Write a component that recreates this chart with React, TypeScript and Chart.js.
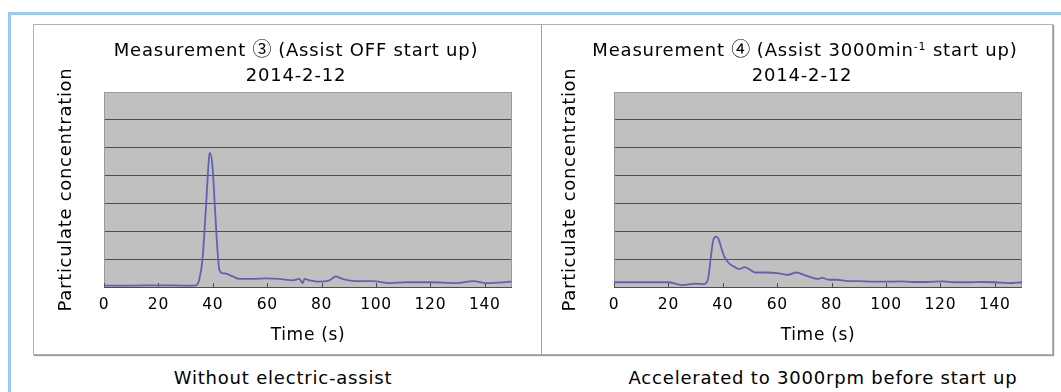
import React, { useEffect, useRef } from "react";
import { Chart, registerables } from "chart.js";

Chart.register(...registerables);

// ---- data ----
const xTicks = [0, 20, 40, 60, 80, 100, 120, 140];

const timeOff = [0, 10, 20, 30, 33.8, 35, 36.2, 37.5, 38.7, 39, 39.9, 40.9, 41.8, 42.4, 43.4, 44.8, 47.3, 49.7, 54.6, 59.6, 64.5, 69.4, 71.8, 73.1, 73.7, 75.5, 79.2, 82.9, 85.3, 86.6, 89, 92.7, 98.9, 105, 111, 119.7, 129.6, 135.7, 140.6, 149.8];
const valuesOff = [0.05, 0.05, 0.06, 0.05, 0.06, 0.26, 0.98, 2.88, 4.73, 4.81, 4.31, 2.64, 1.21, 0.62, 0.5, 0.48, 0.38, 0.29, 0.29, 0.31, 0.29, 0.24, 0.29, 0.14, 0.29, 0.24, 0.19, 0.24, 0.38, 0.33, 0.26, 0.21, 0.21, 0.14, 0.17, 0.17, 0.14, 0.21, 0.14, 0.19];

const timeAssist = [0, 10, 20, 25, 30, 33, 34.5, 35.5, 36.5, 37.5, 38.5, 39.5, 40.5, 42, 44, 46, 48, 50, 52, 56, 60, 64, 67, 70, 73, 75, 76.5, 79, 82, 86, 90, 95, 100, 105, 110, 115, 121, 125, 130, 135, 140, 145, 150];
const valuesAssist = [0.17, 0.17, 0.17, 0.07, 0.12, 0.1, 0.26, 0.98, 1.69, 1.81, 1.71, 1.39, 1.1, 0.88, 0.74, 0.64, 0.71, 0.62, 0.52, 0.52, 0.5, 0.44, 0.52, 0.43, 0.33, 0.29, 0.33, 0.26, 0.26, 0.21, 0.21, 0.19, 0.19, 0.2, 0.18, 0.18, 0.2, 0.17, 0.17, 0.18, 0.17, 0.14, 0.17];

const yTitle = "Particulate concentration";
const xTitle = "Time (s)";

const FONT = "'DejaVu Sans', 'Noto Sans CJK JP', sans-serif";
const CJK = "'Noto Sans CJK JP', sans-serif";

const plotBg = {
  id: "plotBg",
  beforeDraw(chart: any) {
    const { ctx, chartArea: a } = chart;
    (ctx as any).letterSpacing = "0.7px";
    ctx.save();
    ctx.fillStyle = "#c0c0c0";
    ctx.fillRect(a.left, a.top, a.right - a.left, a.bottom - a.top);
    ctx.restore();
  },
  beforeDatasetsDraw(chart: any) {
    const { ctx, chartArea: a } = chart;
    const xs = chart.scales.x;
    ctx.save();
    ctx.strokeStyle = "#9a9a9a";
    ctx.lineWidth = 1;
    ctx.beginPath();
    ctx.moveTo(a.left + 0.5, a.top);
    ctx.lineTo(a.left + 0.5, a.bottom);
    ctx.moveTo(a.right - 0.5, a.top);
    ctx.lineTo(a.right - 0.5, a.bottom);
    ctx.stroke();
    ctx.strokeStyle = "#4d4d4d";
    ctx.beginPath();
    xTicks.forEach((v) => {
      const px = Math.round(xs.getPixelForValue(v)) + 0.5;
      ctx.moveTo(px, a.bottom);
      ctx.lineTo(px, a.bottom - 4);
    });
    ctx.stroke();
    ctx.restore();
  },
};

function makeConfig(times: number[], values: number[], yTitlePad: number, padRight: number) {
  return {
    type: "line",
    data: {
      datasets: [
        {
          data: times.map((t, i) => ({ x: t, y: values[i] })),
          borderColor: "#6161b4",
          borderWidth: 1.8,
          pointRadius: 0,
          cubicInterpolationMode: "monotone",
          fill: false,
        },
      ],
    },
    options: {
      animation: false,
      responsive: false,
      maintainAspectRatio: false,
      layout: { padding: { left: 0, top: 66, right: padRight, bottom: 0 } },
      plugins: { legend: { display: false }, tooltip: { enabled: false }, title: { display: false } },
      scales: {
        x: {
          type: "linear",
          min: 0,
          max: 150,
          afterBuildTicks: (s: any) => {
            s.ticks = xTicks.map((v) => ({ value: v }));
          },
          afterFit: (s: any) => {
            s.height = 66;
          },
          grid: { display: false, drawTicks: false },
          border: { display: false },
          ticks: { color: "#000", font: { family: FONT, size: 15.5 }, padding: 9, maxRotation: 0, autoSkip: false },
          title: { display: true, text: xTitle, color: "#000", font: { family: FONT, size: 17 }, padding: { top: 0, bottom: 7 } },
        },
        y: {
          type: "linear",
          min: 0,
          max: 7,
          afterFit: (s: any) => {
            s.width = 70 + (padRight === 30 ? 2 : 0);
          },
          ticks: { display: false, stepSize: 1 },
          grid: {
            drawTicks: false,
            color: (c: any) => (c.tick && c.tick.value === 7 ? "#9a9a9a" : "#4d4d4d"),
            lineWidth: 1,
          },
          border: { display: false },
          title: { display: true, text: yTitle, color: "#000", font: { family: FONT, size: 18 }, padding: { top: yTitlePad, bottom: 0 } },
        },
      },
    },
  } as any;
}

function LineChart({ times, values, width, height, yTitlePad, padRight }: any) {
  const ref = useRef<HTMLCanvasElement>(null);
  useEffect(() => {
    const chart = new Chart(ref.current as HTMLCanvasElement, { ...makeConfig(times, values, yTitlePad, padRight), plugins: [plotBg] });
    return () => chart.destroy();
  }, []);
  return <canvas ref={ref} width={width} height={height} style={{ width, height, display: "block" }} />;
}

const textStyle: React.CSSProperties = {
  position: "absolute",
  fontFamily: FONT,
  color: "#000",
  whiteSpace: "nowrap",
  transform: "translate(-50%, -50%)",
  lineHeight: 1,
  fontSize: 18,
  letterSpacing: "0.8px",
};

const circ: React.CSSProperties = { fontFamily: CJK, fontSize: 19, letterSpacing: 0 };

export default function App() {
  useEffect(() => {
    document.body.style.margin = "0";
  }, []);
  return (
    <div style={{ position: "fixed", left: 0, top: 0, width: 1061, height: 392, background: "#fff", overflow: "hidden" }}>
      {/* blue frame */}
      <div style={{ position: "absolute", left: 8, top: 12, width: 1053, height: 3, background: "#9ccaf7" }} />
      <div style={{ position: "absolute", left: 8, top: 12, width: 3, height: 380, background: "#9ccaf7" }} />
      {/* gray box */}
      <div
        style={{
          position: "absolute",
          left: 33,
          top: 24,
          width: 1018,
          height: 329,
          border: "1px solid #b0b0b0",
          boxShadow: "1px 1px 1px #9a9a9a",
        }}
      />
      <div style={{ position: "absolute", left: 541, top: 25, width: 1, height: 329, background: "#a0a0a0" }} />
      {/* charts */}
      <div style={{ position: "absolute", left: 34, top: 26 }}>
        <LineChart times={timeOff} values={valuesOff} width={506} height={327} yTitlePad={22} padRight={28} />
      </div>
      <div style={{ position: "absolute", left: 542, top: 26 }}>
        <LineChart times={timeAssist} values={valuesAssist} width={510} height={327} yTitlePad={18} padRight={30} />
      </div>
      {/* titles */}
      <div style={{ ...textStyle, left: 296, top: 48 }}>
        Measurement <span style={circ}>③</span> (Assist OFF start up)
      </div>
      <div style={{ ...textStyle, left: 296, top: 75 }}>2014-2-12</div>
      <div style={{ ...textStyle, left: 805, top: 48 }}>
        Measurement <span style={circ}>④</span> (Assist 3000min<sup style={{ fontSize: 11, verticalAlign: "6px", lineHeight: 0 }}>-1</sup> start up)
      </div>
      <div style={{ ...textStyle, left: 802, top: 75 }}>2014-2-12</div>
      {/* captions */}
      <div style={{ ...textStyle, left: 283, top: 378 }}>Without electric-assist</div>
      <div style={{ ...textStyle, left: 823, top: 378 }}>Accelerated to 3000rpm before start up</div>
    </div>
  );
}
